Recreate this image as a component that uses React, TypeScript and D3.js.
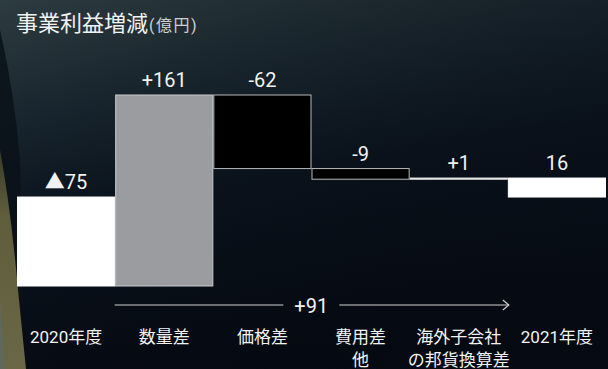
import React from 'react';
import * as d3 from 'd3';

const categories = ['2020年度', '数量差', '価格差', '費用差他', '海外子会社の邦貨換算差', '2021年度'];
const categoryLines = [['2020年度'], ['数量差'], ['価格差'], ['費用差', '他'], ['海外子会社', 'の邦貨換算差'], ['2021年度']];
const values = [-75, 161, -62, -9, 1, 16];
const kinds = ['total', 'delta', 'delta', 'delta', 'delta', 'total'];
const valueLabels = ['▲75', '+161', '-62', '-9', '+1', '16'];
const totalChange = '+91';

const W = 608;
const H = 369;

export default function App() {
  const x = d3.scaleBand<string>().domain(categories).range([17, 606]).padding(0);
  const y = d3.scaleLinear().domain([-75, 86]).range([286, 95]);

  let running = 0;
  const segs = values.map((v, i) => {
    let y0: number, y1: number;
    if (kinds[i] === 'total') {
      y0 = 0; y1 = v; running = v;
    } else {
      y0 = running; y1 = running + v; running = y1;
    }
    return { cat: categories[i], v, y0, y1, i };
  });

  const fills = (s: any) => {
    if (kinds[s.i] === 'total') return { fill: '#ffffff', stroke: '#ffffff' };
    if (s.v > 10) return { fill: '#9a9ca0', stroke: '#c9cacc' };
    if (s.v > 0) return { fill: '#ffffff', stroke: '#e0e0e0' };
    return { fill: '#000000', stroke: '#b8b8b8' };
  };

  const fontFam = "Roboto, 'Noto Sans CJK JP', sans-serif";
  const arrowY = 305;
  const ax0 = x(categories[1])! - 0.5;
  const ax1 = x(categories[5])! + 1;
  const midX = (ax0 + ax1) / 2 - 0.5;

  return (
    <svg width={W} height={H} style={{ position: 'absolute', left: 0, top: 0, display: 'block' }}>
      <defs>
        <linearGradient id="bgv" x1="0" y1="0" x2="0.25" y2="1">
          <stop offset="0" stopColor="#2d3c41" />
          <stop offset="0.3" stopColor="#19262f" />
          <stop offset="0.55" stopColor="#0b141e" />
          <stop offset="1" stopColor="#060a13" />
        </linearGradient>
        <linearGradient id="bgh" x1="0" y1="0" x2="1" y2="0">
          <stop offset="0" stopColor="#000000" stopOpacity="0" />
          <stop offset="1" stopColor="#050a12" stopOpacity="0.35" />
        </linearGradient>
        <linearGradient id="olive" x1="0" y1="0" x2="0" y2="1">
          <stop offset="0" stopColor="#3a3c2c" />
          <stop offset="0.3" stopColor="#5f5d3c" />
          <stop offset="1" stopColor="#6a6746" />
        </linearGradient>
      </defs>
      <rect x={0} y={0} width={W} height={H} fill="url(#bgv)" />
      <rect x={0} y={0} width={W} height={H} fill="url(#bgh)" />
      <path d="M0,30 Q14,90 20,160 L22,369 L0,369 Z" fill="#0b1219" opacity={0.85} />
      <path d="M0,150 Q11,210 18,290 Q22,330 26,369 L0,369 Z" fill="url(#olive)" />
      <path d="M0,300 Q3,335 5,369 L0,369 Z" fill="#5b6a66" opacity={0.7} />

      <text x={16} y={31} fontFamily={fontFam} fill="#f2f2f2" fontSize={22}>
        事業利益増減
        <tspan fontSize={16} fill="#cfd2d3" dx={1} letterSpacing={1.5}>(億円)</tspan>
      </text>

      {segs.map((s) => {
        const c = fills(s);
        const top = y(Math.max(s.y0, s.y1));
        const bot = y(Math.min(s.y0, s.y1));
        const h = Math.max(bot - top, 1.2);
        return (
          <rect
            key={s.cat}
            x={x(s.cat)! + 0.5}
            y={top}
            width={x.bandwidth() - 1}
            height={h}
            fill={c.fill}
            stroke={c.stroke}
            strokeWidth={1}
          />
        );
      })}

      {segs.map((s, i) => {
        const top = y(Math.max(s.y0, s.y1, kinds[i] === 'total' ? 0 : -Infinity));
        return (
          <text
            key={'v' + s.cat}
            x={x(s.cat)! + x.bandwidth() / 2}
            y={top - 8}
            textAnchor="middle"
            fontFamily={fontFam}
            fontSize={20}
            fill="#f2f2f2"
          >
            {valueLabels[i]}
          </text>
        );
      })}

      <line x1={ax0} x2={midX - 28} y1={arrowY} y2={arrowY} stroke="#d0d0d0" strokeWidth={1.2} />
      <line x1={midX + 28} x2={ax1} y1={arrowY} y2={arrowY} stroke="#d0d0d0" strokeWidth={1.2} />
      <path d={`M${ax1 - 6},${arrowY - 5} L${ax1},${arrowY} L${ax1 - 6},${arrowY + 5}`} fill="none" stroke="#d0d0d0" strokeWidth={1.2} />
      <text x={midX} y={313} textAnchor="middle" fontFamily={fontFam} fontSize={20} fill="#f2f2f2">
        {totalChange}
      </text>

      {categories.map((c, i) => (
        <text
          key={'c' + c}
          x={x(c)! + x.bandwidth() / 2}
          y={343}
          textAnchor="middle"
          fontFamily={fontFam}
          fontSize={17}
          fill="#f2f2f2"
        >
          {categoryLines[i].map((ln, j) => (
            <tspan key={j} x={x(c)! + x.bandwidth() / 2} dy={j === 0 ? 0 : 23}>
              {ln}
            </tspan>
          ))}
        </text>
      ))}
    </svg>
  );
}
